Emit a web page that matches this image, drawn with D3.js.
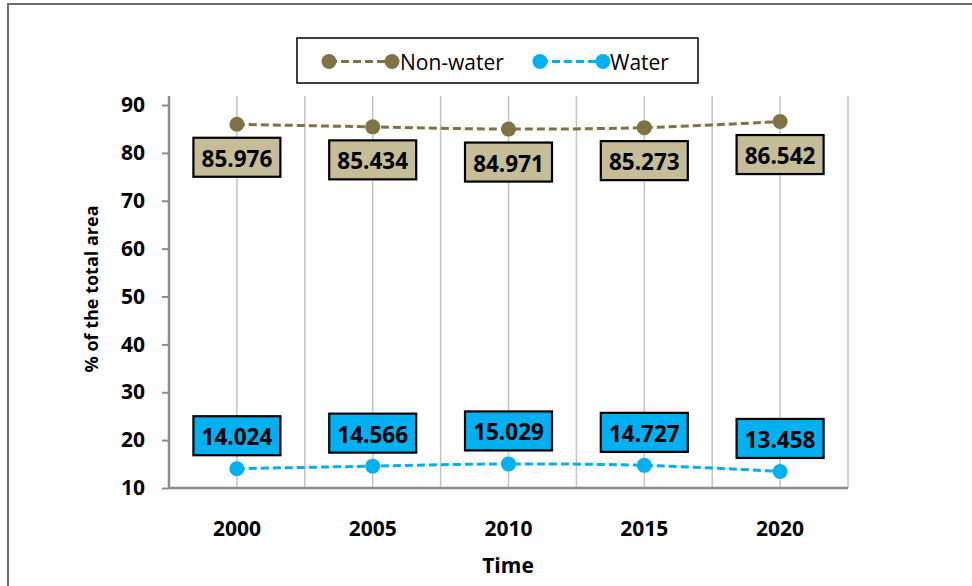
<!DOCTYPE html>
<html>
<head>
<meta charset="utf-8">
<script src="https://cdn.jsdelivr.net/npm/d3@7"></script>
<style>
  body { margin: 0; background: #fff; }
  text { font-family: "Open Sans", sans-serif; }
</style>
</head>
<body>
<div id="chart-div"></div>
<script>
// Chart globals
const CHART_WIDTH = 972
const CHART_HEIGHT = 586

// data
const years = [2000, 2005, 2010, 2015, 2020]
const nonWater = [85.976, 85.434, 84.971, 85.273, 86.542]
const water = [14.024, 14.566, 15.029, 14.727, 13.458]
const yTickValues = [10, 20, 30, 40, 50, 60, 70, 80, 90]
const seriesNames = ["Non-water", "Water"]
const seriesColors = ["#7f7345", "#00b0f0"]
const labelFills = ["#c4bd97", "#00b0f0"]

const svg = d3.select("#chart-div").append("svg")
  .attr("width", CHART_WIDTH)
  .attr("height", CHART_HEIGHT)

// outer frame (right and bottom run off the picture)
svg.append("rect")
  .attr("x", 8).attr("y", 4)
  .attr("width", 1000).attr("height", 700)
  .attr("fill", "none")
  .attr("stroke", "#6e6e6e")
  .attr("stroke-width", 2)

// layout
const marginLeft = 169
const plotRight = 848
const plotTop = 96
const axisBottomY = 488

const x = d3.scaleLinear()
  .domain([1997.5, 2022.5])
  .range([marginLeft, plotRight])

const y = d3.scaleLinear()
  .domain([10, 90])
  .range([axisBottomY, 105])

// vertical gridlines every 2.5 years
const gridValues = d3.range(2000, 2023, 2.5)
svg.append("g").selectAll("line")
  .data(gridValues)
  .join("line")
    .attr("x1", d => x(d)).attr("x2", d => x(d))
    .attr("y1", plotTop).attr("y2", axisBottomY)
    .attr("stroke", "#c3c3c3")
    .attr("stroke-width", 1.5)

// x axis line
svg.append("line")
  .attr("x1", marginLeft).attr("x2", plotRight)
  .attr("y1", axisBottomY).attr("y2", axisBottomY)
  .attr("stroke", "#8c8c8c")
  .attr("stroke-width", 2.5)

// y axis
const yAxis = svg.append("g")
  .attr("transform", `translate(${marginLeft},0)`)
  .call(d3.axisLeft(y).tickValues(yTickValues).tickSize(7).tickPadding(17).tickSizeOuter(0))
yAxis.select(".domain").remove()
yAxis.append("line")
  .attr("x1", 0).attr("x2", 0)
  .attr("y1", plotTop).attr("y2", axisBottomY + 1)
  .attr("stroke", "#8c8c8c").attr("stroke-width", 2.5)
yAxis.selectAll(".tick line").attr("stroke", "#8c8c8c").attr("stroke-width", 2)
yAxis.selectAll(".tick text")
  .attr("fill", "#000")
  .style("font-size", "21px")
  .style("font-weight", "bold")
  .style("font-family", "'Open Sans', sans-serif")

// x tick labels
svg.append("g").selectAll("text")
  .data(years)
  .join("text")
    .attr("x", d => x(d))
    .attr("y", 528)
    .attr("text-anchor", "middle")
    .attr("dominant-baseline", "central")
    .style("font-size", "21px")
    .style("font-weight", "bold")
    .text(d => d)

// axis titles
svg.append("text")
  .attr("x", 508).attr("y", 565)
  .attr("text-anchor", "middle")
  .attr("dominant-baseline", "central")
  .style("font-size", "21px")
  .style("font-weight", "bold")
  .text("Time")

svg.append("text")
  .attr("transform", "translate(91,289) rotate(-90)")
  .attr("text-anchor", "middle")
  .attr("dominant-baseline", "central")
  .style("font-size", "18px")
  .style("font-weight", "bold")
  .text("% of the total area")

// series
const series = [nonWater, water]
const line = d3.line()
  .x((d, i) => x(years[i]))
  .y(d => y(d))
  .curve(d3.curveCatmullRom.alpha(0))

series.forEach((vals, s) => {
  svg.append("path")
    .datum(vals)
    .attr("d", line)
    .attr("fill", "none")
    .attr("stroke", seriesColors[s])
    .attr("stroke-width", 3)
    .attr("stroke-dasharray", "8,4")

  svg.append("g").selectAll("circle")
    .data(vals)
    .join("circle")
      .attr("cx", (d, i) => x(years[i]))
      .attr("cy", d => y(d))
      .attr("r", 7.5)
      .attr("fill", seriesColors[s])

  // data labels: below for non-water, above for water
  const offset = s === 0 ? 33 : -33
  const labels = svg.append("g").selectAll("g")
    .data(vals)
    .join("g")
      .attr("transform", (d, i) => `translate(${x(years[i])},${y(d) + offset})`)
  labels.append("rect")
    .attr("x", -43.5).attr("y", -19.5)
    .attr("width", 87).attr("height", 39)
    .attr("fill", labelFills[s])
    .attr("stroke", "#000")
    .attr("stroke-width", 2.2)
  labels.append("text")
    .attr("text-anchor", "middle")
    .attr("dominant-baseline", "central")
    .attr("y", 1)
    .style("font-size", "22.5px")
    .style("font-weight", "bold")
    .text(d => d.toFixed(3))
})

// legend
const legend = svg.append("g")
legend.append("rect")
  .attr("x", 297).attr("y", 38)
  .attr("width", 401).attr("height", 45)
  .attr("fill", "#fff")
  .attr("stroke", "#000")
  .attr("stroke-width", 1.5)

const legendItems = [
  {x1: 329, x2: 392, tx: 400},
  {x1: 540, x2: 603, tx: 610}
]
legendItems.forEach((it, s) => {
  legend.append("line")
    .attr("x1", it.x1).attr("x2", it.x2)
    .attr("y1", 61.5).attr("y2", 61.5)
    .attr("stroke", seriesColors[s])
    .attr("stroke-width", 3)
    .attr("stroke-dasharray", "8,4")
  for (const cx of [it.x1, it.x2]) {
    legend.append("circle")
      .attr("cx", cx).attr("cy", 61.5)
      .attr("r", 7.5)
      .attr("fill", seriesColors[s])
  }
  legend.append("text")
    .attr("x", it.tx).attr("y", 61.5)
    .attr("dominant-baseline", "central")
    .style("font-size", "21px")
    .text(seriesNames[s])
})
</script>
</body>
</html>
